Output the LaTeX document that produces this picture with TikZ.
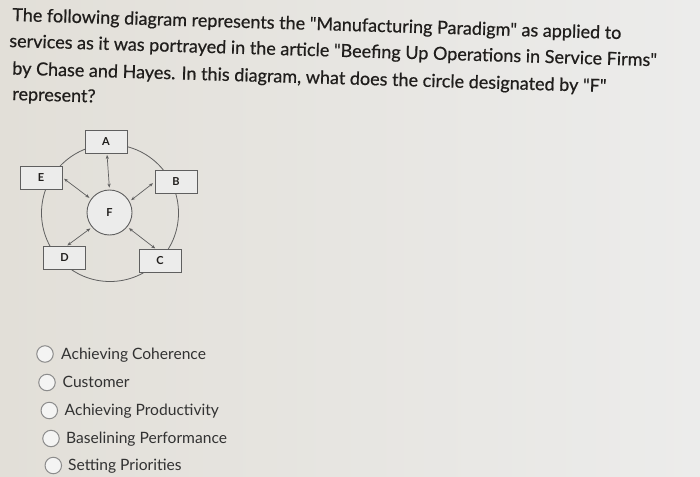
\documentclass[tikz,border=0pt]{standalone}
\usepackage{fontspec}
\setmainfont{Lato}[Ligatures=TeXOff]
\newfontfamily\qfont{Lato}[Ligatures=TeXOff,FakeBold=0.6]
\usetikzlibrary{arrows.meta,shadings}
\definecolor{bgl}{RGB}{226,223,216}
\definecolor{bgr}{RGB}{236,236,235}
\definecolor{qtext}{RGB}{32,30,28}
\definecolor{otext}{RGB}{50,50,50}
\definecolor{lines}{RGB}{95,95,95}
\definecolor{radio}{RGB}{140,140,140}
\begin{document}
\begin{tikzpicture}[x=1pt,y=-1pt,
  qline/.style={anchor=base west,inner sep=0pt,font=\qfont\fontsize{18}{21}\selectfont,text=qtext,rotate=-1.7},
  opt/.style={anchor=base west,inner sep=0pt,font=\fontsize{15.6}{17}\selectfont,text=otext},
  radiobtn/.style={circle,draw=radio,line width=1pt,fill=bgr!60!white,minimum size=16.5pt,inner sep=0pt},
  lbox/.style={draw=lines,line width=0.9pt,fill=bgr,minimum width=42pt,minimum height=23pt,inner sep=0pt,font=\fontsize{11}{12}\selectfont\bfseries,text=qtext},
  centre/.style={circle,draw=lines,line width=0.9pt,fill=bgr,minimum size=45pt,inner sep=0pt,font=\fontsize{11}{12}\selectfont\bfseries,text=qtext},
  biarrow/.style={draw=lines,line width=0.7pt,{Stealth[length=4pt,width=3.2pt]}-{Stealth[length=4pt,width=3.2pt]}}
]
\shade[left color=bgl,right color=bgr] (0,0) rectangle (700,476);
\useasboundingbox (0,0) rectangle (700,476);

% question
\node[qline] (q1) at (12,21) {The following diagram represents the "Manufacturing Paradigm" as applied to};
\node[qline] (q2) at (9,47) {services as it was portrayed in the article "Beefing Up Operations in Service Firms"};
\node[qline] (q3) at (12,74.5) {by Chase and Hayes. In this diagram, what does the circle designated by "F"};
\node[qline] (q4) at (12,100) {represent?};

% diagram
\coordinate (ring) at (110,213);
\draw[lines,line width=0.8pt] (ring) circle[radius=68.5];
\node[lbox] (A) at (106,142) {A};
\node[lbox] (E) at (41,177.5) {E};
\node[lbox] (B) at (176,182) {B};
\node[lbox] (D) at (64.5,258) {D};
\node[lbox] (C) at (160,261) {C};
\node[centre] (F) at (109.5,212.5) {F};
\draw[biarrow,shorten <=1pt,shorten >=2pt] ([xshift=1pt]A.south) -- (F.90);
\draw[biarrow,shorten <=2pt,shorten >=2pt] (E.east) -- (F.144);
\draw[biarrow,shorten <=2pt,shorten >=2pt] (B.west) -- (F.29);
\draw[biarrow,shorten <=1pt,shorten >=2pt] ([xshift=2pt]D.north) -- (F.220);
\draw[biarrow,shorten <=1pt,shorten >=2pt] ([xshift=-4pt]C.north) -- (F.-39);

% options
\node[radiobtn] (r1) at (45,354) {};
\node[radiobtn] (r2) at (47,382.5) {};
\node[radiobtn] (r3) at (49.3,410.5) {};
\node[radiobtn] (r4) at (51,438.5) {};
\node[radiobtn] (r5) at (53.3,465.5) {};
\node[opt] (o1) at (61,359.5) {Achieving Coherence};
\node[opt] (o2) at (62.5,387) {Customer};
\node[opt] (o3) at (64.5,415.5) {Achieving Productivity};
\node[opt] (o4) at (66,443.5) {Baselining Performance};
\node[opt] (o5) at (68,470.5) {Setting Priorities};
\end{tikzpicture}
\end{document}
